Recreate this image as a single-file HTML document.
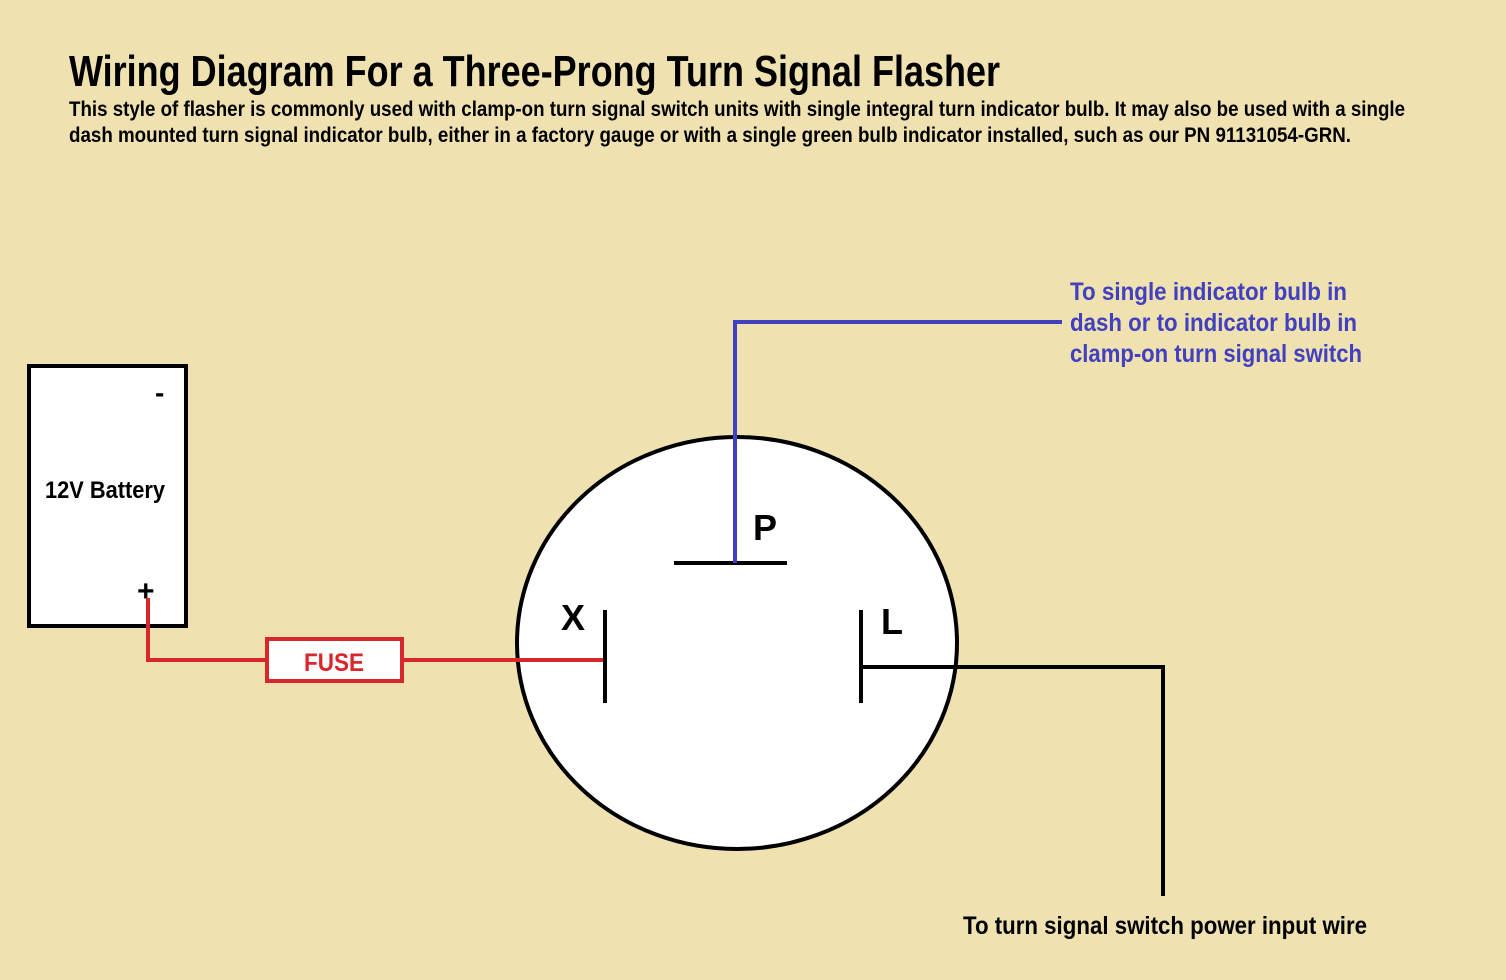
<!DOCTYPE html>
<html><head><style>html,body{margin:0;padding:0;background:#EFE2B0;}svg{display:block}</style></head>
<body>
<svg width="1506" height="980" xmlns="http://www.w3.org/2000/svg" font-family="'Liberation Sans Narrow','Liberation Sans',sans-serif" font-weight="bold">
<rect width="1506" height="980" fill="#EFE2B0"/>
<text x="69" y="86" font-size="44" textLength="931" lengthAdjust="spacingAndGlyphs">Wiring Diagram For a Three-Prong Turn Signal Flasher</text>
<text x="69" y="116" font-size="21" textLength="1336" lengthAdjust="spacingAndGlyphs">This style of flasher is commonly used with clamp-on turn signal switch units with single integral turn indicator bulb. It may also be used with a single</text>
<text x="69" y="142" font-size="21" textLength="1282" lengthAdjust="spacingAndGlyphs">dash mounted turn signal indicator bulb, either in a factory gauge or with a single green bulb indicator installed, such as our PN 91131054-GRN.</text>

<rect x="29" y="366" width="157" height="260" fill="#fff" stroke="#000" stroke-width="4"/>
<text x="155" y="402" font-size="28">-</text>
<text x="45" y="498" font-size="24" textLength="120" lengthAdjust="spacingAndGlyphs">12V Battery</text>
<text x="137" y="601" font-size="30">+</text>

<ellipse cx="737" cy="643" rx="220" ry="206" fill="#fff" stroke="#000" stroke-width="4"/>

<polyline points="148,598 148,660 267,660" fill="none" stroke="#D9262B" stroke-width="4"/>
<rect x="267" y="639" width="135" height="42" fill="#fff" stroke="#D9262B" stroke-width="4"/>
<text x="304" y="671" font-size="25" fill="#D9262B" textLength="60" lengthAdjust="spacingAndGlyphs">FUSE</text>
<line x1="402" y1="660" x2="605" y2="660" stroke="#D9262B" stroke-width="4"/>

<line x1="605" y1="610" x2="605" y2="703" stroke="#000" stroke-width="4"/>
<text x="561" y="630" font-size="36">X</text>

<line x1="674" y1="563" x2="787" y2="563" stroke="#000" stroke-width="4"/>
<text x="753" y="540" font-size="36">P</text>
<polyline points="735,563 735,322 1062,322" fill="none" stroke="#4040C0" stroke-width="4"/>

<line x1="861" y1="610" x2="861" y2="703" stroke="#000" stroke-width="4"/>
<text x="881" y="634" font-size="36">L</text>
<polyline points="861,667 1163,667 1163,896" fill="none" stroke="#000" stroke-width="4"/>

<g fill="#4040C0" font-size="25">
<text x="1070" y="300" textLength="277" lengthAdjust="spacingAndGlyphs">To single indicator bulb in</text>
<text x="1070" y="331" textLength="287" lengthAdjust="spacingAndGlyphs">dash or to indicator bulb in</text>
<text x="1070" y="362" textLength="292" lengthAdjust="spacingAndGlyphs">clamp-on turn signal switch</text>
</g>
<text x="963" y="934" font-size="25" textLength="404" lengthAdjust="spacingAndGlyphs">To turn signal switch power input wire</text>
</svg>
</body></html>
